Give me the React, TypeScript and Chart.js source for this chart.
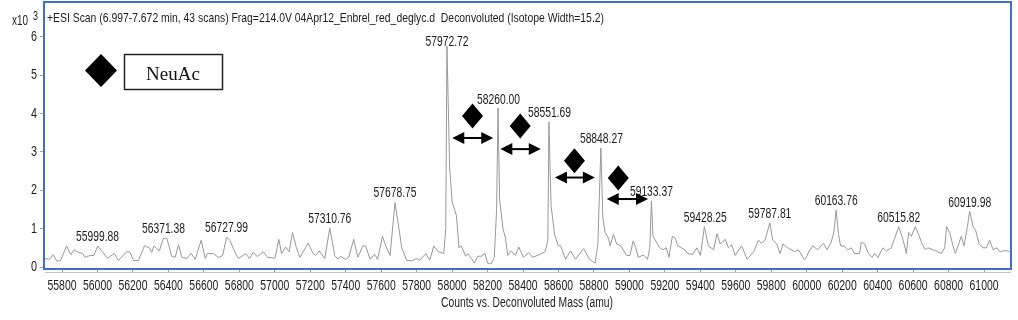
import React, { useEffect, useRef } from "react";
import { Chart, registerables } from "chart.js";

Chart.register(...registerables);

const masses = [
  55704, 55730, 55751, 55770, 55792, 55826, 55849, 55868, 55892, 55917, 55930, 55958, 55980, 56001, 56023, 56056, 56095, 56118, 56165, 56184, 56203, 56231, 56265, 56293, 56306, 56319, 56349, 56372, 56391, 56419, 56438, 56457, 56476, 56504, 56527, 56551, 56585, 56608, 56620, 56654, 56682, 56706, 56728, 56747, 56766, 56794, 56837, 56856, 56879, 56901, 56935, 56959, 57001, 57023, 57038, 57061, 57081, 57100, 57122, 57141, 57188, 57216, 57231, 57250, 57282, 57310, 57338, 57357,
  57370, 57398, 57417, 57445, 57468, 57497, 57512, 57538, 57563, 57580, 57607, 57626, 57650, 57678, 57697, 57716, 57744, 57772, 57796, 57818, 57852, 57874, 57897, 57921, 57953, 57964, 57971, 57986, 58000, 58024, 58039, 58052, 58076, 58089, 58126, 58145, 58163, 58186, 58200, 58219, 58238, 58251, 58259, 58268, 58287, 58301, 58314, 58333, 58357, 58376, 58402, 58432, 58454, 58491, 58525, 58540, 58546, 58558, 58578, 58599, 58612, 58640, 58668, 58696, 58742, 58774, 58807, 58822, 58839, 58850, 58863, 58882, 58891, 58910, 58928, 58952, 58984, 59003, 59021, 59036, 59050, 59072, 59083, 59102, 59115, 59124, 59133, 59152, 59171, 59189, 59208, 59223, 59242, 59259,
  59272, 59295, 59319, 59328, 59357, 59381, 59400, 59423, 59445, 59475, 59494, 59512, 59541, 59558, 59577, 59596, 59633, 59664, 59701, 59728, 59743, 59765, 59792, 59808, 59831, 59850, 59865, 59893, 59931, 59954, 59984, 59991, 60012, 60034, 60062, 60094, 60115, 60138, 60153, 60166, 60179, 60191, 60210, 60232, 60251, 60270, 60298, 60308, 60327, 60345, 60368, 60383, 60402, 60430, 60449, 60477, 60496, 60519, 60537, 60552, 60562, 60575, 60590, 60612, 60631, 60650, 60669, 60684, 60712, 60737, 60759, 60778, 60789, 60806, 60825, 60838, 60853, 60872, 60887, 60906, 60919, 60938, 60953, 60972, 60994, 61013, 61032, 61051, 61073, 61088, 61107, 61135, 61147,
];

const intensities = [
  0.22, 0.2, 0.32, 0.15, 0.17, 0.55, 0.32, 0.45, 0.38, 0.35, 0.25, 0.3, 0.3, 0.55, 0.42, 0.23, 0.35, 0.17, 0.4, 0.38, 0.17, 0.17, 0.55, 0.5, 0.38, 0.55, 0.42, 0.75, 0.75, 0.28, 0.25, 0.58, 0.25, 0.22, 0.36, 0.2, 0.7, 0.22, 0.35, 0.35, 0.25, 0.3, 0.77, 0.7, 0.48, 0.22, 0.35, 0.22, 0.38, 0.27, 0.4, 0.25, 0.23, 0.72, 0.35, 0.52, 0.4, 0.9, 0.5, 0.25, 0.62, 0.35, 0.3, 0.42, 0.22, 1.02, 0.3, 0.2,
  0.28, 0.2, 0.25, 0.72, 0.25, 0.55, 0.55, 0.2, 0.33, 0.2, 0.8, 0.55, 0.3, 1.68, 1.1, 0.5, 0.17, 0.16, 0.22, 0.18, 0.35, 0.18, 0.55, 0.4, 0.35, 1, 5.75, 2.6, 1.7, 1.35, 0.5, 0.55, 0.28, 0.35, 0.1, 0.28, 0.28, 0.35, 0.1, 0.08, 0.25, 1.5, 4.14, 1.75, 1, 0.75, 0.3, 0.42, 0.3, 0.52, 0.25, 0.38, 0.25, 0.32, 0.4, 0.7, 3.78, 1.6, 0.85, 0.55, 0.55, 0.2, 0.42, 0.2, 0.48, 0.2, 0.1, 0.6, 3.1, 1.3, 0.9, 0.75, 0.55, 0.85, 0.6, 0.55, 0.3, 0.3, 0.68, 0.5, 0.25, 0.3, 0.3, 0.2, 0.5, 1.72, 0.8, 0.65, 0.5, 0.45, 0.5, 0.25, 0.8, 0.75,
  0.55, 0.5, 0.42, 0.35, 0.33, 0.5, 0.3, 1.05, 0.55, 0.45, 0.87, 0.6, 0.72, 0.5, 0.58, 0.3, 0.55, 0.2, 0.4, 0.7, 0.62, 0.7, 1.15, 0.7, 0.6, 0.35, 0.6, 0.5, 0.4, 0.45, 0.2, 0.2, 0.4, 0.55, 0.45, 0.62, 0.45, 0.65, 0.9, 1.48, 0.85, 0.55, 0.55, 0.45, 0.5, 0.35, 0.35, 0.65, 0.6, 0.38, 0.25, 0.35, 0.25, 0.5, 0.42, 0.5, 0.75, 1.05, 0.8, 0.55, 0.35, 0.9, 0.8, 1.05, 0.85, 0.6, 0.45, 0.5, 0.45, 0.4, 0.35, 0.5, 1.05, 0.9, 0.55, 0.35, 0.55, 0.8, 0.55, 1.05, 1.45, 1.05, 0.95, 0.6, 0.5, 0.5, 0.7, 0.45, 0.5, 0.4, 0.42, 0.42, 0.38,
];

const peakLabels = ["55999.88", "56371.38", "56727.99", "57310.76", "57678.75", "57972.72", "58260.00", "58551.69", "58848.27", "59133.37", "59428.25", "59787.81", "60163.76", "60515.82", "60919.98"];
const peakLabelMass = [56000, 56372, 56728, 57310, 57678, 57971, 58262, 58549, 58842, 59124, 59428, 59792, 60166, 60519, 60919];
const peakLabelLevel = [0.78, 0.99, 1.02, 1.25, 1.93, 5.86, 4.35, 4.01, 3.33, 1.95, 1.28, 1.38, 1.72, 1.28, 1.67];

const diamondMass = [58115, 58384, 58690, 58937];
const diamondLevel = [3.93, 3.67, 2.77, 2.32];
const arrowStart = [58001, 58272, 58580, 58872];
const arrowEnd = [58232, 58500, 58805, 59105];
const arrowLevel = [3.36, 3.07, 2.33, 1.77];

const headerText = "+ESI Scan (6.997-7.672 min, 43 scans) Frag=214.0V 04Apr12_Enbrel_red_deglyc.d  Deconvoluted (Isotope Width=15.2)";
const xAxisTitle = "Counts vs. Deconvoluted Mass (amu)";
const legendText = "NeuAc";

const SANS = '"Liberation Sans", Arial, sans-serif';
const INK = "#1c1c1c";

const diamond = (ctx: CanvasRenderingContext2D, x: number, y: number, hw: number, hh: number) => {
  ctx.beginPath();
  ctx.moveTo(x, y - hh);
  ctx.lineTo(x + hw, y);
  ctx.lineTo(x, y + hh);
  ctx.lineTo(x - hw, y);
  ctx.closePath();
  ctx.fill();
};

const annotations = {
  id: "annotations",
  afterDraw(chart: any) {
    const { ctx, scales } = chart;
    const px = (v: number) => scales.x.getPixelForValue(v);
    const py = (v: number) => scales.y.getPixelForValue(v);
    ctx.save();

    ctx.strokeStyle = "#c4c4c4";
    ctx.lineWidth = 1;
    ctx.beginPath();
    ctx.moveTo(45, 272.5);
    ctx.lineTo(1011, 272.5);
    ctx.stroke();

    ctx.strokeStyle = "#3f6fcb";
    ctx.lineWidth = 2;
    ctx.strokeRect(44, 2, 967, 267);

    ctx.fillStyle = INK;
    ctx.textBaseline = "middle";
    ctx.textAlign = "left";
    ctx.font = `13px ${SANS}`;
    ctx.fillText(headerText, 47, 18, 557);
    ctx.font = `15px ${SANS}`;
    ctx.fillText("x10", 12, 20.5, 16);
    ctx.font = `12px ${SANS}`;
    ctx.fillText("3", 33, 17, 5);

    ctx.textAlign = "center";
    ctx.font = `14px ${SANS}`;
    scales.x.ticks.forEach((t: any) => ctx.fillText(String(t.value), px(t.value), 286, 29));
    ctx.fillText(xAxisTitle, 527, 303, 172);
    peakLabels.forEach((t, i) => ctx.fillText(t, px(peakLabelMass[i]), py(peakLabelLevel[i]), 43));
    ctx.textAlign = "right";
    ctx.font = `15px ${SANS}`;
    scales.y.ticks.forEach((t: any) => ctx.fillText(String(t.value), 37, py(t.value), 6));

    ctx.textAlign = "center";
    ctx.fillStyle = "#000";
    diamondMass.forEach((m, i) => diamond(ctx, px(m), py(diamondLevel[i]), 10.5, 12.5));
    arrowStart.forEach((s, i) => {
      const a = px(s);
      const b = px(arrowEnd[i]);
      const y = py(arrowLevel[i]);
      ctx.fillRect(a + 10, y - 1, b - a - 20, 2);
      ctx.beginPath();
      ctx.moveTo(a, y);
      ctx.lineTo(a + 12, y - 6);
      ctx.lineTo(a + 12, y + 6);
      ctx.closePath();
      ctx.moveTo(b, y);
      ctx.lineTo(b - 12, y - 6);
      ctx.lineTo(b - 12, y + 6);
      ctx.closePath();
      ctx.fill();
    });

    diamond(ctx, 101, 70.5, 16, 16.5);
    ctx.strokeStyle = "#222";
    ctx.lineWidth = 1.5;
    ctx.strokeRect(124.5, 54.5, 98, 35);
    ctx.fillStyle = "#111";
    ctx.font = '19px "Liberation Serif", serif';
    ctx.fillText(legendText, 173, 75, 57);
    ctx.restore();
  },
};

export default function App() {
  const ref = useRef<HTMLCanvasElement>(null);
  useEffect(() => {
    const chart = new Chart(ref.current as HTMLCanvasElement, {
      type: "line",
      data: {
        datasets: [
          {
            data: masses.map((m, i) => ({ x: m, y: intensities[i] })),
            borderColor: "#989898",
            borderWidth: 1,
            pointRadius: 0,
            tension: 0,
          },
        ],
      },
      options: {
        responsive: false,
        animation: false,
        layout: { padding: { top: 3, right: 7, left: 0, bottom: 0 } },
        plugins: { legend: { display: false }, tooltip: { enabled: false }, title: { display: false } },
        scales: {
          x: {
            type: "linear",
            min: 55704,
            max: 61152,
            afterFit: (s: any) => { s.height = 52; },
            grid: { drawOnChartArea: false, tickLength: 4, color: "#a0a0a0" },
            border: { display: false },
            ticks: { display: false, stepSize: 200, includeBounds: false, autoSkip: false, maxRotation: 0 },
          },
          y: {
            type: "linear",
            min: -0.026,
            max: 6.875,
            afterFit: (s: any) => { s.width = 45; },
            grid: { drawOnChartArea: false, tickLength: 5, color: "#a0a0a0" },
            border: { display: false },
            ticks: { display: false, stepSize: 1, includeBounds: false },
          },
        },
      },
      plugins: [annotations],
    } as any);
    return () => chart.destroy();
  }, []);
  return (
    <div style={{ position: "absolute", left: 0, top: 0, width: 1018, height: 320, background: "#fff" }}>
      <canvas ref={ref} width={1018} height={320} style={{ display: "block" }} />
    </div>
  );
}
